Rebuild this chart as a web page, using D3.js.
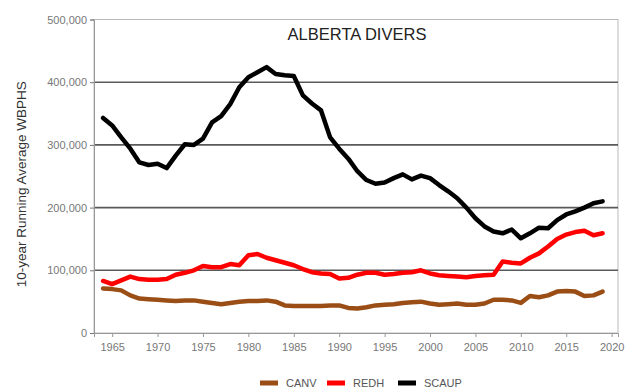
<!DOCTYPE html>
<html>
<head>
<meta charset="utf-8">
<script src="https://cdn.jsdelivr.net/npm/d3@7"></script>
<style>
  body { margin: 0; background: #fff; }
  svg { display: block; font-family: "Liberation Sans", Arial, sans-serif; }
  .tick text { fill: #777; font-size: 11px; }
  .title { fill: #222; font-size: 16.5px; }
  .axis-label { fill: #333; font-size: 13.5px; }
  .legend text { fill: #555; font-size: 11px; }
</style>
</head>
<body>
<svg width="627" height="390"></svg>
<script>
const years = [1964,1965,1966,1967,1968,1969,1970,1971,1972,1973,1974,1975,1976,1977,1978,1979,
  1980,1981,1982,1983,1984,1985,1986,1987,1988,1989,1990,1991,1992,1993,1994,1995,1996,1997,1998,1999,
  2000,2001,2002,2003,2004,2005,2006,2007,2008,2009,2010,2011,2012,2013,2014,2015,2016,2017,2018,2019];

// thousands of birds
const canv = [71,70,68,60,55,54,53,52,51,52,52,50,48,46,48,50,
  51,51,52,50,44,43,43,43,43,44,44,40,39,41,44,45,46,48,49,50,
  47,45,46,47,45,45,47,53,53,52,48,59,57,60,66,67,66,59,60,66];

const redh = [83,78,84,90,86,85,85,86,93,96,100,107,105,105,110,108,
  124,126,120,116,112,108,102,97,95,94,87,88,93,96,96,93,94,96,97,100,
  95,92,91,90,89,91,92,93,114,112,111,120,127,138,150,157,161,163,156,159];

const scaup = [343,331,312,294,272,268,270,263,283,301,300,310,336,346,365,392,
  408,416,424,413,411,410,379,366,355,312,294,278,258,244,238,240,247,253,245,251,
  247,236,226,215,200,183,170,162,159,165,151,159,168,167,180,189,194,200,207,210];

const seriesNames = ['CANV','REDH','SCAUP'];
const seriesColors = ['#9a4e16','#ff0000','#000000'];
const yTicks = [0,100000,200000,300000,400000,500000];
const xTicks = [1965,1970,1975,1980,1985,1990,1995,2000,2005,2010,2015,2020];

function whenLoaded(){
    const svg = d3.select('svg');
    const width = +svg.attr('width');
    const height = +svg.attr('height');

    const margin = {top:19.5,right:9,bottom:57,left:94};
    const innerWidth = width - margin.left - margin.right;
    const innerHeight = height - margin.top - margin.bottom;

    const series = [canv, redh, scaup].map((vals,i) => ({
        name: seriesNames[i],
        color: seriesColors[i],
        values: vals.map((v,j) => ({year: years[j], value: v*1000}))
    }));

    const xScale = d3.scaleLinear()
        .domain([1963, 2020.7])
        .range([0, innerWidth]);

    const yScale = d3.scaleLinear()
        .domain([0, 500000])
        .range([innerHeight, 0]);

    const g = svg.append('g')
        .attr('transform',`translate(${margin.left},${margin.top})`);

    // frame
    g.append('rect')
        .attr('width', innerWidth)
        .attr('height', innerHeight)
        .attr('fill','none')
        .attr('stroke','#bbb')
        .attr('stroke-width',1);

    // gridlines
    g.selectAll('.grid').data(yTicks.filter(d => d > 0 && d < 500000))
        .enter().append('line')
        .attr('class','grid')
        .attr('x1',0).attr('x2',innerWidth)
        .attr('y1',d => yScale(d)).attr('y2',d => yScale(d))
        .attr('stroke','#5a5a5a')
        .attr('stroke-width',1.6);

    const yAxis = d3.axisLeft(yScale)
        .tickValues(yTicks)
        .tickFormat(d3.format(','))
        .tickSizeOuter(0)
        .tickSize(4)
        .tickPadding(3);

    const yAxisG = g.append('g').call(yAxis);
    yAxisG.select('.domain').attr('stroke','#999');
    yAxisG.selectAll('.tick line').attr('stroke','#777');

    const xAxis = d3.axisBottom(xScale)
        .tickValues(xTicks)
        .tickFormat(d3.format('d'))
        .tickSizeOuter(0)
        .tickSize(4)
        .tickPadding(4);

    const xAxisG = g.append('g')
        .attr('transform',`translate(0,${innerHeight})`)
        .call(xAxis);
    xAxisG.select('.domain').attr('stroke','#999');
    xAxisG.selectAll('.tick line').attr('stroke','#999');
    xAxisG.selectAll('.tick text').attr('dy','0.9em');

    const line = d3.line()
        .x(d => xScale(d.year))
        .y(d => yScale(d.value));

    g.selectAll('.series').data(series)
        .enter().append('path')
        .attr('class','series')
        .attr('d',d => line(d.values))
        .attr('fill','none')
        .attr('stroke',d => d.color)
        .attr('stroke-width',4.5)
        .attr('stroke-linejoin','round')
        .attr('stroke-linecap','round');

    g.append('text')
        .attr('class','title')
        .attr('x', 357 - margin.left)
        .attr('y', 20)
        .attr('text-anchor','middle')
        .text('ALBERTA DIVERS');

    svg.append('text')
        .attr('class','axis-label')
        .attr('transform',`translate(26,${margin.top + innerHeight/2 + 8}) rotate(-90)`)
        .attr('text-anchor','middle')
        .text('10-year Running Average WBPHS');

    // legend
    const legendX = [260, 327, 398];
    const legend = svg.append('g').attr('class','legend');
    const items = legend.selectAll('g').data(series)
        .enter().append('g')
        .attr('transform',(d,i) => `translate(${legendX[i]},383)`);
    items.append('rect')
        .attr('y',-2.5)
        .attr('width',18)
        .attr('height',5)
        .attr('fill',d => d.color);
    items.append('text')
        .attr('x',26)
        .attr('dy','0.35em')
        .text(d => d.name);
}

window.onload = whenLoaded;
</script>
</body>
</html>
